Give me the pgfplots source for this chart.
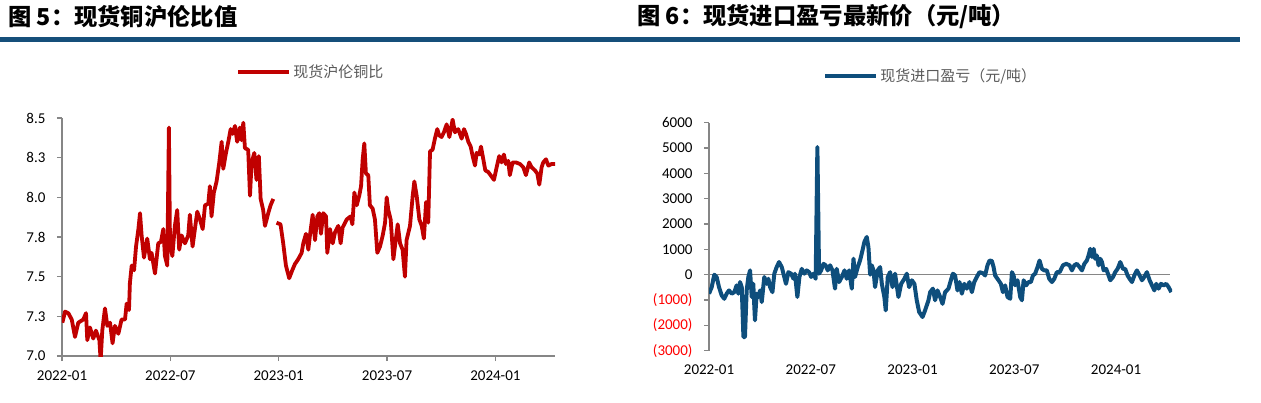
\documentclass[border=0pt]{standalone}
\usepackage{fontspec}
\setmainfont{Carlito}
\newfontfamily\cjk{Noto Sans CJK SC}
\usepackage{pgfplots}
\pgfplotsset{compat=1.18}
\definecolor{barblue}{RGB}{21,79,122}
\definecolor{lred}{RGB}{192,0,0}
\definecolor{lblue}{RGB}{14,78,124}
\definecolor{axgray}{RGB}{134,134,134}
\definecolor{leggray}{RGB}{89,89,89}
\pgfplotsset{
  mystyle/.style={
    scale only axis,
    anchor=south west,
    axis y line*=left,
    axis x line*=bottom,
    axis line style={axgray, line width=1.3pt},
    tick style={axgray, line width=1.2pt},
    tick align=outside,
    major tick length=5pt,
    tick label style={font=\fontsize{15}{18}\selectfont, text=black},
    xticklabel style={yshift=-6pt},
    yticklabel style={xshift=-8pt},
    xtick={0,6,12,18,24},
    xticklabels={2022-01,2022-07,2023-01,2023-07,2024-01},
    unbounded coords=jump,
    legend style={draw=none, fill=none, inner sep=0pt, text=leggray,
      font=\cjk\fontsize{15}{18}\selectfont, legend cell align=left},
  }
}
\begin{document}
\begin{tikzpicture}[x=1pt,y=1pt]
\useasboundingbox (0,0) rectangle (1261,402);
\fill[barblue] (0,360) rectangle (1240,365);
\node[anchor=west, inner sep=0pt] at (8,385) {\cjk\bfseries\fontsize{23.3}{27}\selectfont 图 5：现货铜沪伦比值};
\node[anchor=west, inner sep=0pt] at (637,385) {\cjk\bfseries\fontsize{23.3}{27}\selectfont 图 6：现货进口盈亏最新价（元/吨）};

\begin{axis}[mystyle,
  at={(62pt,46pt)}, width=493pt, height=238pt,
  xmin=0, xmax=27.3, ymin=7, ymax=8.5,
  ytick={7,7.25,7.5,7.75,8,8.25,8.5},
  yticklabels={7.0,7.3,7.5,7.8,8.0,8.3,8.5},
  legend style={at={(0.505,1.193)}, anchor=center},
  legend image code/.code={\draw[#1, line width=4pt] (0pt,0pt) -- (51pt,0pt);},
]
\addplot[lred, line width=3.8pt, line join=round, no markers] coordinates {
(0.02,7.21) (0.17,7.28) (0.35,7.27) (0.54,7.23) (0.72,7.12) (0.90,7.21)
(1.18,7.23) (1.33,7.27) (1.40,7.10) (1.55,7.18) (1.73,7.11) (1.88,7.16)
(2.07,7.10) (2.14,6.97) (2.23,7.16) (2.38,7.30) (2.51,7.19) (2.66,7.21)
(2.80,7.08) (2.93,7.19) (3.12,7.14) (3.30,7.23) (3.49,7.23) (3.58,7.33)
(3.71,7.29) (3.76,7.46) (3.86,7.57) (3.99,7.54) (4.10,7.69) (4.23,7.80)
(4.32,7.90) (4.41,7.76) (4.54,7.62) (4.72,7.74) (4.87,7.61) (4.96,7.65)
(5.15,7.52) (5.33,7.71) (5.48,7.72) (5.61,7.80) (5.70,7.63) (5.83,7.57)
(5.92,8.44) (5.98,7.71) (6.11,7.63) (6.25,7.82) (6.38,7.92) (6.49,7.67)
(6.62,7.76) (6.81,7.71) (6.99,7.76) (7.08,7.89) (7.23,7.69) (7.36,7.80)
(7.49,7.91) (7.64,7.86) (7.79,7.80) (7.92,7.95) (8.10,7.96) (8.19,8.07)
(8.28,7.88) (8.41,8.03) (8.56,8.10) (8.71,8.22) (8.84,8.35) (8.93,8.18)
(9.08,8.28) (9.21,8.35) (9.34,8.43) (9.45,8.40) (9.58,8.45) (9.70,8.35)
(9.85,8.44) (9.94,8.36) (10.04,8.47) (10.13,8.31) (10.31,8.30) (10.41,8.01)
(10.50,8.22) (10.65,8.28) (10.77,8.11) (10.90,8.26) (11.00,7.99) (11.14,7.92)
(11.24,7.82) (11.42,7.90) (11.55,7.95) (11.70,7.99) (11.80,nan)
(11.88,7.84) (12.10,7.83) (12.25,7.71) (12.40,7.57) (12.58,7.49) (12.75,7.54)
(12.90,7.58) (13.08,7.61) (13.27,7.65) (13.36,7.71) (13.51,7.77) (13.64,7.67)
(13.73,7.76) (13.88,7.89) (14.01,7.73) (14.14,7.88) (14.25,7.90) (14.34,7.77)
(14.47,7.90) (14.62,7.88) (14.69,7.65) (14.84,7.80) (14.99,7.71) (15.12,7.78)
(15.30,7.82) (15.43,7.71) (15.54,7.81) (15.76,7.86) (15.98,7.88) (16.08,7.83)
(16.19,8.03) (16.32,7.95) (16.46,8.01) (16.56,8.07) (16.65,8.24) (16.74,8.34)
(16.83,8.15) (16.96,8.14) (17.05,7.95) (17.20,7.93) (17.33,7.86) (17.46,7.65)
(17.61,7.69) (17.76,7.76) (17.89,7.84) (17.98,8.00) (18.07,7.92) (18.20,7.86)
(18.35,7.61) (18.48,7.73) (18.59,7.83) (18.72,7.71) (18.86,7.67) (18.99,7.50)
(19.08,7.73) (19.27,7.82) (19.42,8.01) (19.51,8.10) (19.64,8.01) (19.79,7.86)
(19.92,7.82) (20.04,7.74) (20.16,7.97) (20.28,7.84) (20.38,8.29) (20.52,8.30)
(20.65,8.37) (20.78,8.43) (20.89,8.39) (21.02,8.38) (21.15,8.41) (21.30,8.46)
(21.45,8.38) (21.63,8.49) (21.76,8.41) (21.94,8.43) (22.13,8.37) (22.26,8.43)
(22.37,8.40) (22.50,8.35) (22.63,8.32) (22.74,8.26) (22.87,8.20) (22.96,8.28)
(23.11,8.27) (23.20,8.32) (23.33,8.24) (23.44,8.17) (23.60,8.16) (23.73,8.14)
(23.92,8.11) (24.07,8.19) (24.21,8.26) (24.34,8.22) (24.47,8.27) (24.58,8.21)
(24.71,8.23) (24.80,8.14) (24.95,8.22) (25.14,8.22) (25.36,8.21) (25.54,8.19)
(25.69,8.14) (25.87,8.22) (26.00,8.19) (26.19,8.17) (26.32,8.15) (26.43,8.08)
(26.56,8.19) (26.65,8.22) (26.80,8.24) (26.93,8.20) (27.11,8.21) (27.30,8.21)
};
\addlegendentry{现货沪伦铜比}
\end{axis}

\begin{axis}[mystyle,
  at={(709pt,51.3pt)}, width=463pt, height=228pt,
  xmin=0, xmax=27.3, ymin=-3000, ymax=6000,
  separate axis lines,
  x axis line style={draw=none},
  xtick style={draw=none},
  ytick={-3000,-2000,-1000,0,1000,2000,3000,4000,5000,6000},
  yticklabels={\textcolor{red}{(3000)},\textcolor{red}{(2000)},\textcolor{red}{(1000)},0,1000,2000,3000,4000,5000,6000},
  legend style={at={(0.479,1.205)}, anchor=center},
  legend image code/.code={\draw[#1, line width=4pt] (0pt,0pt) -- (51pt,0pt);},
]
\addplot[axgray, line width=1.3pt, forget plot] coordinates {(0,0) (27.2,0)};
\addplot[lblue, line width=4pt, line join=round, no markers] coordinates {
(0,-750) (0.16,-490) (0.31,0) (0.45,-90) (0.59,-490) (0.75,-820) (0.90,-950)
(1.04,-750) (1.18,-620) (1.34,-750) (1.49,-690) (1.63,-420) (1.73,-750)
(1.83,-290) (1.93,-490) (2.03,-2460) (2.12,-2460) (2.22,-620) (2.32,-90)
(2.42,170) (2.52,-880) (2.61,-360) (2.71,-1800) (2.81,-750) (2.91,-880)
(3.01,-620) (3.11,-1080) (3.26,-90) (3.40,-360) (3.50,-160) (3.60,-490)
(3.74,-690) (3.85,40) (3.99,300) (4.13,500) (4.29,300) (4.44,-90) (4.54,-360)
(4.68,100) (4.84,40) (4.98,-160) (5.07,40) (5.21,-880) (5.33,-90) (5.47,230)
(5.62,40) (5.76,170) (5.90,100) (6.02,-90) (6.16,40) (6.29,-160) (6.39,5040)
(6.49,40) (6.61,170) (6.75,430) (6.88,370) (7.00,170) (7.14,370) (7.28,170)
(7.43,-550) (7.53,230) (7.67,-290) (7.83,-90) (7.99,170) (8.12,-160) (8.26,170)
(8.42,-550) (8.52,630) (8.61,-90) (8.77,300) (8.91,570) (9.05,960) (9.16,1290)
(9.30,1490) (9.40,1090) (9.50,0) (9.60,370) (9.70,170) (9.79,-490) (9.95,170)
(10.09,300) (10.19,-360) (10.34,-880) (10.42,-1410) (10.54,-90) (10.68,100)
(10.82,-490) (10.97,40) (11.17,-880) (11.33,-360) (11.52,-160) (11.66,40)
(11.80,-490) (11.96,-220) (12.11,-360) (12.25,-1010) (12.39,-1470)
(12.59,-1670) (12.74,-1410) (12.94,-1010) (13.04,-690) (13.20,-550)
(13.33,-1010) (13.47,-620) (13.63,-880) (13.77,-1150) (13.92,-690)
(14.12,-550) (14.26,-220) (14.38,40) (14.51,-30) (14.65,-620) (14.77,-290)
(14.91,-750) (15.05,-360) (15.20,-550) (15.36,-290) (15.50,-690) (15.64,-290)
(15.79,-90) (15.95,100) (16.15,60) (16.28,-30) (16.42,370) (16.54,560)
(16.68,540) (16.78,300) (16.87,-30) (17.07,-220) (17.21,-360) (17.33,-690)
(17.46,-420) (17.60,-880) (17.76,-950) (17.86,100) (17.96,-30) (18.05,-420)
(18.19,-220) (18.35,-880) (18.45,-1010) (18.55,-220) (18.70,-420) (18.84,-290)
(18.98,-290) (19.10,-30) (19.23,40) (19.37,300) (19.49,560) (19.63,230)
(19.77,170) (19.92,170) (20.06,-160) (20.22,-290) (20.36,-160) (20.51,100)
(20.67,100) (20.87,370) (21.06,430) (21.26,370) (21.40,170) (21.54,370)
(21.69,430) (21.85,300) (21.99,170) (22.13,430) (22.28,560) (22.38,760)
(22.48,1020) (22.58,700) (22.68,1020) (22.77,630) (22.87,760) (22.97,370)
(23.07,630) (23.17,500) (23.27,170) (23.42,230) (23.56,-30) (23.66,-220)
(23.82,-90) (23.95,100) (24.09,230) (24.25,500) (24.41,230) (24.54,230)
(24.68,-30) (24.80,-160) (24.94,-290) (25.08,-30) (25.23,170) (25.39,-30)
(25.53,-220) (25.66,-90) (25.82,100) (25.98,-220) (26.12,-420) (26.26,-620)
(26.37,-360) (26.51,-550) (26.65,-360) (26.81,-420) (26.96,-360) (27.10,-490)
(27.26,-690)
};
\addlegendentry{现货进口盈亏（元/吨）}
\end{axis}
\end{tikzpicture}
\end{document}
